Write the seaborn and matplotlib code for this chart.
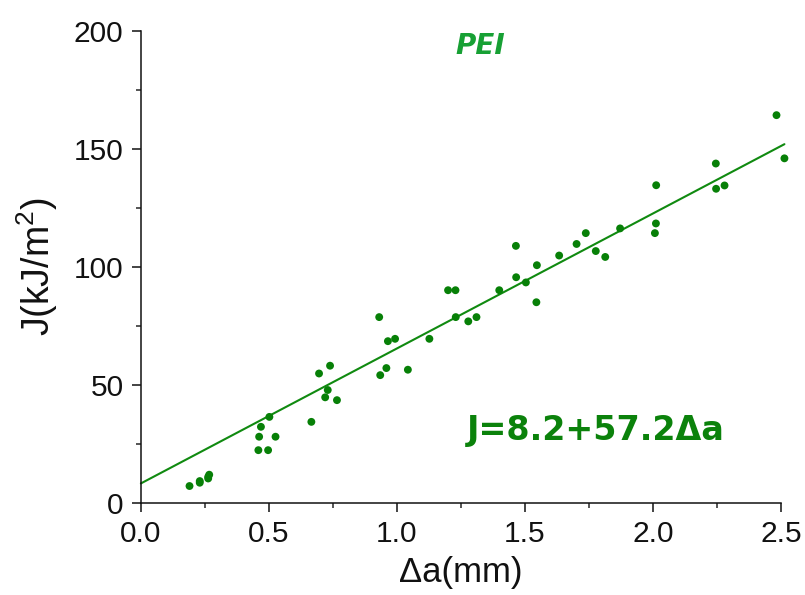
import matplotlib
matplotlib.use("Agg")
import matplotlib.pyplot as plt
from matplotlib.ticker import MultipleLocator
import seaborn as sns
import pandas as pd
import numpy as np

# data
delta_a = [0.19, 0.23, 0.23, 0.263, 0.263, 0.267,
           0.459, 0.462, 0.469, 0.497, 0.502, 0.526,
           0.666, 0.696, 0.72, 0.73, 0.739, 0.766,
           0.931, 0.935, 0.959, 0.965, 0.993, 1.043,
           1.127, 1.200, 1.229, 1.230, 1.279, 1.311,
           1.400, 1.465, 1.466, 1.504, 1.545, 1.547,
           1.634, 1.702, 1.738, 1.777, 1.814, 1.872,
           2.008, 2.012, 2.013, 2.246, 2.247, 2.28,
           2.483, 2.514]
J_values = [7.1, 9.2, 8.5, 10.3, 11.0, 11.9,
            22.3, 28.0, 32.2, 22.3, 36.4, 28.0,
            34.3, 54.8, 44.7, 47.8, 58.1, 43.5,
            78.7, 54.1, 57.1, 68.5, 69.5, 56.4,
            69.5, 90.1, 90.1, 78.7, 76.9, 78.7,
            90.1, 108.9, 95.6, 93.4, 85.0, 100.7,
            104.8, 109.7, 114.3, 106.7, 104.2, 116.3,
            114.3, 118.4, 134.6, 143.8, 133.1, 134.5,
            164.3, 146.0]
intercept = 8.2
slope = 57.2
title_text = "PEI"
equation_text = "J=8.2+57.2\u0394a"
x_ticks = [0.0, 0.5, 1.0, 1.5, 2.0, 2.5]
y_ticks = [0, 50, 100, 150, 200]

sns.set_style("ticks")
plt.rcParams['font.family'] = ['Liberation Sans', 'DejaVu Sans']
plt.rcParams['mathtext.fontset'] = 'custom'
plt.rcParams['mathtext.rm'] = 'Liberation Sans'
plt.rcParams['mathtext.it'] = 'Liberation Sans'

df = pd.DataFrame({"da": delta_a, "J": J_values})
fit_x = np.array([0.0, max(delta_a)])
fit_df = pd.DataFrame({"da": fit_x, "J": intercept + slope * fit_x})

fig = plt.figure(figsize=(8.05, 5.95), dpi=100)
ax = fig.add_axes([0.175, 0.155, 0.795, 0.793])

sns.lineplot(data=fit_df, x="da", y="J", ax=ax, color="#108a10", linewidth=1.5,
             clip_on=False)
sns.scatterplot(data=df, x="da", y="J", ax=ax, color="#078007", s=32,
                edgecolor="none", zorder=3, clip_on=False)

ax.set_xlim(0, 2.5)
ax.set_ylim(0, 200)
ax.set_xticks(x_ticks)
ax.set_xticklabels([f"{t:.1f}" for t in x_ticks])
ax.set_yticks(y_ticks)
ax.xaxis.set_minor_locator(MultipleLocator(0.25))
ax.yaxis.set_minor_locator(MultipleLocator(25))
ax.tick_params(which="major", direction="out", length=6.5, width=1.1,
               labelsize=21.5, pad=6, colors="#111111")
ax.tick_params(which="minor", direction="out", length=3.6, width=1.1)
for side in ["top", "right"]:
    ax.spines[side].set_visible(False)
for side in ["left", "bottom"]:
    ax.spines[side].set_linewidth(1.1)
    ax.spines[side].set_color("#111111")

ax.set_xlabel("\u0394a(mm)", fontsize=25, labelpad=6, color="#111111")
ax.set_ylabel("J(kJ/m$^2$)", fontsize=27, labelpad=10, color="#111111")

ax.text(1.324, 193.5, title_text, fontsize=20, fontweight="bold",
        fontstyle="italic", family="DejaVu Sans", color="#17a034",
        ha="center", va="center")
ax.text(1.275, 30.8, equation_text, fontsize=24, fontweight="bold",
        family="DejaVu Sans", color="#0b820b", ha="left", va="center")

fig.savefig("out.png", dpi=100)
